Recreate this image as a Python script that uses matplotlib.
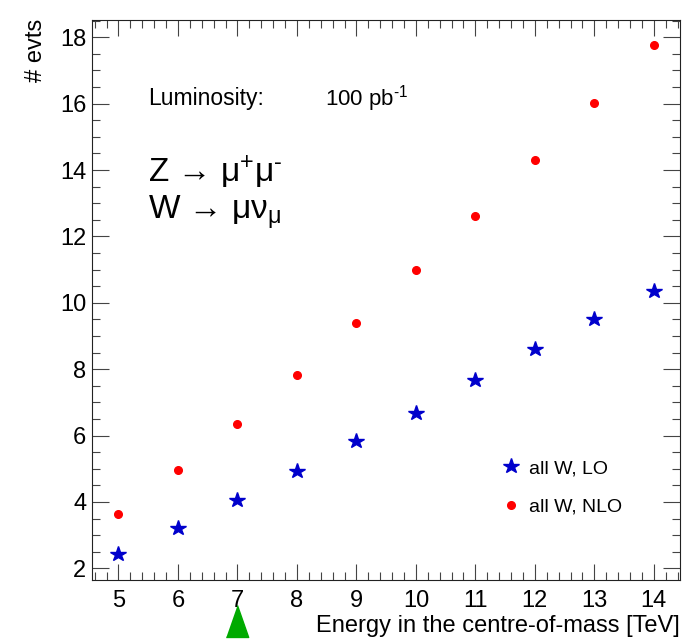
import matplotlib
matplotlib.use('Agg')
import matplotlib.pyplot as plt
from matplotlib.ticker import MultipleLocator
from matplotlib.transforms import blended_transform_factory

plt.rcParams['font.family'] = ['Liberation Sans', 'DejaVu Sans']
plt.rcParams['mathtext.fontset'] = 'custom'
plt.rcParams['mathtext.rm'] = 'Liberation Sans'
plt.rcParams['mathtext.it'] = 'Liberation Sans'
plt.rcParams['mathtext.bf'] = 'Liberation Sans'

# donnees
energy = [5, 6, 7, 8, 9, 10, 11, 12, 13, 14]
evts_lo = [2.42, 3.23, 4.07, 4.93, 5.84, 6.68, 7.68, 8.61, 9.51, 10.36]
evts_nlo = [3.64, 4.96, 6.35, 7.83, 9.39, 10.99, 12.63, 14.30, 16.02, 17.77]
current_energy = 7

fig = plt.figure(figsize=(6.84, 6.39), dpi=100)
ax = fig.add_axes([92 / 684, 1 - 580 / 639, 588 / 684, 560 / 639])

ax.plot(energy, evts_lo, ls='none', marker='*', ms=11.5, color='#0000cc',
        mec='#0000cc', label='all W, LO')
ax.plot(energy, evts_nlo, ls='none', marker='o', ms=5.5, color='#ff0000',
        mec='#ff0000', label='all W, NLO')

ax.set_xlim(4.555, 14.44)
ax.set_ylim(1.65, 18.52)

ax.xaxis.set_major_locator(MultipleLocator(1))
ax.xaxis.set_minor_locator(MultipleLocator(0.2))
ax.yaxis.set_major_locator(MultipleLocator(2))
ax.yaxis.set_minor_locator(MultipleLocator(0.5))

for side in ax.spines.values():
    side.set_linewidth(0.8)
    side.set_color('#222222')

ax.tick_params(which='both', direction='in', top=True, right=True,
               color='#444444', width=0.8, labelsize=17)
ax.tick_params(axis='x', which='major', length=11.5, pad=7)
ax.tick_params(axis='x', which='minor', length=5.8)
ax.tick_params(axis='y', which='major', length=12.5, pad=4)
ax.tick_params(axis='y', which='minor', length=6)

ax.set_xlabel('Energy in the centre-of-mass [TeV]', fontsize=17, ha='right')
ax.xaxis.set_label_coords(1.0, -0.062)
ax.set_ylabel('# evts', fontsize=17, ha='right')
ax.yaxis.set_label_coords(-0.077, 1.003)

# textes
ax.text(0.0952, 0.848, 'Luminosity:', transform=ax.transAxes, fontsize=16.5)
ax.text(0.396, 0.848, '100 pb$^{\u2010 1}$', transform=ax.transAxes, fontsize=16)
ax.text(0.0952, 0.711, 'Z → μ$^{+}$μ$^{\u2010}$', transform=ax.transAxes, fontsize=24)
ax.text(0.0952, 0.643, 'W → μν$_{\\mu}$', transform=ax.transAxes, fontsize=24)

# fleche verte sous l'axe
tri = [(-0.7, -1), (0.7, -1), (0, 1)]
trans = blended_transform_factory(ax.transData, ax.transAxes)
ax.plot([current_energy], [-0.073], marker=tri, ms=23, color='#00aa00',
        mec='#00aa00', transform=trans, clip_on=False)

ax.legend(loc='upper left', bbox_to_anchor=(0.6961, 0.215), frameon=False,
          fontsize=14, handlelength=1.0, handletextpad=0.43,
          labelspacing=1.06, borderpad=0, borderaxespad=0, numpoints=1)

fig.savefig('out.png', dpi=100)
